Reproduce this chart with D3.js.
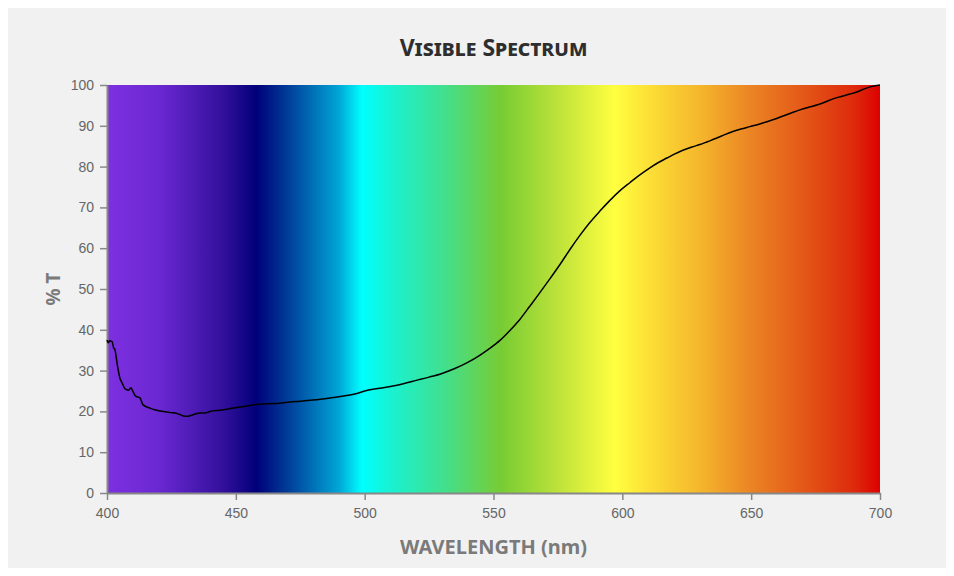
<!DOCTYPE html>
<html>
<head>
<meta charset="utf-8">
<script src="https://cdn.jsdelivr.net/npm/d3@7"></script>
<style>
  html, body { margin: 0; padding: 0; background: #ffffff; }
  svg { display: block; }
</style>
</head>
<body>
<svg id="chart" width="954" height="576"></svg>
<script>
// ---- Data ----
const wavelengths = [400, 400.5, 401, 402, 402.6, 403, 404, 405, 406, 407, 408.4, 409.3, 410, 411, 412.8, 414, 416.7, 418.5, 420.6, 422.5, 424.5, 426.4, 428, 430.3, 432, 434, 436, 438, 440, 443.9, 447, 451.6, 455, 459.4, 463, 467, 471, 475, 480, 486.5, 490, 494.3, 497, 500, 505, 510, 515, 520, 525, 530, 535, 540, 544.8, 548, 552.5, 556, 560.3, 564, 568, 572, 575.8, 580, 583.6, 587, 591.3, 595, 599.1, 603, 606, 610.7, 614, 617.3, 620, 623.5, 627, 630.1, 633, 636.7, 640, 642.9, 646, 649.5, 653, 656.1, 659, 662.4, 665, 668.9, 672, 675.5, 679, 681.7, 685, 688.4, 691, 695, 698, 700];
const transmittance = [37.5, 36.8, 37.3, 37.1, 35.5, 35.3, 31.4, 28.2, 26.8, 25.5, 25.2, 25.8, 25.0, 23.8, 23.3, 21.6, 20.8, 20.4, 20.1, 19.9, 19.7, 19.6, 19.3, 18.8, 18.9, 19.3, 19.6, 19.6, 20.0, 20.3, 20.6, 21.1, 21.4, 21.8, 21.9, 22.0, 22.3, 22.5, 22.8, 23.3, 23.6, 24.0, 24.4, 25.0, 25.6, 26.1, 26.8, 27.6, 28.4, 29.3, 30.5, 32.0, 33.8, 35.2, 37.4, 39.6, 42.6, 45.7, 49.1, 52.6, 56.0, 60.0, 63.2, 66.0, 69.1, 71.6, 74.1, 76.1, 77.6, 79.7, 81.0, 82.1, 83.0, 84.0, 84.8, 85.4, 86.1, 87.0, 87.9, 88.6, 89.2, 89.8, 90.4, 91.0, 91.6, 92.4, 93.0, 93.9, 94.5, 95.1, 95.9, 96.6, 97.2, 97.8, 98.3, 99.3, 99.8, 100];
const xTicks = [400, 450, 500, 550, 600, 650, 700];
const yTicks = [0, 10, 20, 30, 40, 50, 60, 70, 80, 90, 100];
// spectrum colour stops (wavelength, colour)
const spectrumWl = [400, 420, 445, 458, 470, 490, 499, 510, 530, 553, 575, 597, 610, 630, 650, 670, 690, 700];
const spectrumColors = ["#7d30e0", "#6b28d2", "#33109c", "#00007a", "#003c98", "#00a6d6", "#00ffff", "#18f2d2", "#40e090", "#77cc33", "#bde23a", "#ffff40", "#fce036", "#f5b62c", "#eb8424", "#e45818", "#dd2a0c", "#dd0000"];

const titleText = "Visible Spectrum";
const xLabel = "WAVELENGTH (nm)";
const yLabel = "% T";

// ---- Layout ----
const svg = d3.select("#chart");
const plot = { left: 107, right: 880, top: 85, bottom: 493 };

svg.append("rect").attr("x", 8).attr("y", 8).attr("width", 938).attr("height", 560).attr("fill", "#f1f1f1");

const x = d3.scaleLinear().domain([400, 700]).range([plot.left, plot.right]);
const y = d3.scaleLinear().domain([0, 100]).range([plot.bottom, plot.top]);

// gradient
const defs = svg.append("defs");
const grad = defs.append("linearGradient").attr("id", "spec")
  .attr("gradientUnits", "userSpaceOnUse")
  .attr("x1", x(400)).attr("x2", x(700)).attr("y1", 0).attr("y2", 0);
spectrumWl.forEach((w, i) => {
  grad.append("stop").attr("offset", (w - 400) / 300).attr("stop-color", spectrumColors[i]);
});

svg.append("rect")
  .attr("x", x(400)).attr("y", y(100))
  .attr("width", x(700) - x(400)).attr("height", y(0) - y(100))
  .attr("fill", "url(#spec)");

// axes
const axisColor = "#888";
const tickFont = "'Liberation Sans', Arial, sans-serif";

const xAxis = svg.append("g").attr("transform", `translate(0,${plot.bottom})`)
  .call(d3.axisBottom(x).tickValues(xTicks).tickSize(7).tickPadding(8).tickSizeOuter(0));
const yAxis = svg.append("g").attr("transform", `translate(${plot.left},0)`)
  .call(d3.axisLeft(y).tickValues(yTicks).tickSize(7).tickPadding(6).tickSizeOuter(0));

[xAxis, yAxis].forEach(g => {
  g.select(".domain").attr("stroke", axisColor).attr("stroke-width", 2);
  g.selectAll(".tick line").attr("stroke", axisColor).attr("stroke-width", 1.5);
  g.selectAll(".tick text").attr("fill", "#666").style("font-family", tickFont).style("font-size", "14px");
});

// line
const line = d3.line().x((d, i) => x(wavelengths[i])).y(d => y(d)).curve(d3.curveMonotoneX);
svg.append("path")
  .datum(transmittance)
  .attr("d", line)
  .attr("fill", "none")
  .attr("stroke", "#000")
  .attr("stroke-width", 1.5)
  .attr("stroke-linejoin", "round");

// title
svg.append("text")
  .attr("x", (plot.left + plot.right) / 2).attr("y", 56)
  .attr("text-anchor", "middle")
  .style("font-family", "'Noto Sans', 'DejaVu Sans', sans-serif")
  .style("font-weight", "bold")
  .style("font-size", "23px")
  .style("font-variant", "small-caps")
  .attr("fill", "#2e2e2e")
  .text(titleText);

// x label
svg.append("text")
  .attr("x", (plot.left + plot.right) / 2).attr("y", 554)
  .attr("text-anchor", "middle")
  .style("font-family", "'Noto Sans', 'DejaVu Sans', sans-serif")
  .style("font-weight", "bold")
  .style("font-size", "20px")
  .attr("fill", "#7a7a7a")
  .text(xLabel);

// y label
svg.append("text")
  .attr("transform", `translate(60,${(plot.top + plot.bottom) / 2}) rotate(-90)`)
  .attr("text-anchor", "middle")
  .style("font-family", "'Noto Sans', 'DejaVu Sans', sans-serif")
  .style("font-weight", "bold")
  .style("font-size", "19px")
  .attr("fill", "#7a7a7a")
  .text(yLabel);
</script>
</body>
</html>
